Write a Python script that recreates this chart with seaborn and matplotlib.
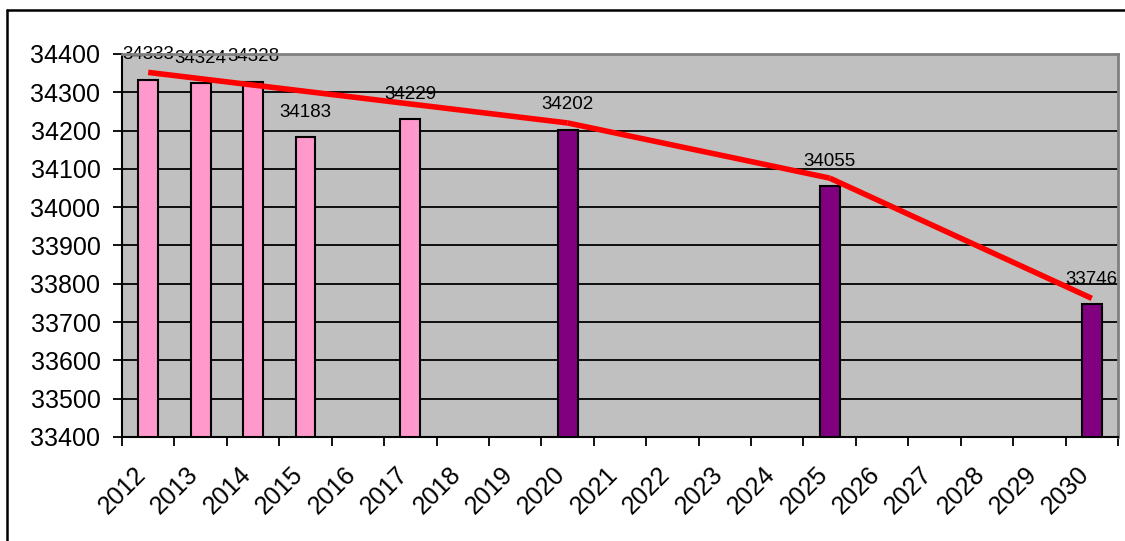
import matplotlib
matplotlib.use("Agg")
import matplotlib.pyplot as plt
import matplotlib.transforms as mtransforms
from matplotlib.lines import Line2D
import seaborn as sns
import pandas as pd

# ---- data ----
all_years = [str(y) for y in range(2012, 2031)]
bar_years = ["2012", "2013", "2014", "2015", "2017", "2020", "2025", "2030"]
bar_values = [34333, 34324, 34328, 34183, 34229, 34202, 34055, 33746]
bar_period = ["actual"] * 5 + ["forecast"] * 3
trend_years = ["2012", "2020", "2025", "2030"]
trend_values = [34352, 34220, 34076, 33762]
y_ticks = list(range(33400, 34401, 100))

sns.set_theme(style="white")
plt.rcParams["font.family"] = ["Liberation Sans", "DejaVu Sans"]

fig = plt.figure(figsize=(11.25, 5.41), dpi=100)
ax = fig.add_axes([122 / 1125, 1 - 437 / 541, (1118 - 122) / 1125, (437 - 54) / 541])
ax.set_facecolor("#C0C0C0")

df = pd.DataFrame({"year": bar_years, "value": bar_values, "period": bar_period})
sns.barplot(data=df, x="year", y="value", hue="period", order=all_years,
            palette={"actual": "#FF99CC", "forecast": "#800080"}, saturation=1,
            dodge=False, width=0.38, edgecolor="black", linewidth=1.5,
            legend=False, ax=ax, zorder=3)

ax.set_xlim(-0.5, len(all_years) - 0.5)
ax.set_ylim(33400, 34400)

# gridlines
for v in y_ticks[1:-1]:
    ax.axhline(v, color="black", lw=1.3, zorder=1)

# trend line (three segments)
pos = [all_years.index(y) for y in trend_years]
for i in range(len(pos) - 1):
    ax.plot(pos[i:i + 2], trend_values[i:i + 2], color="#FF0000", lw=4,
            solid_capstyle="butt", zorder=5)

# data labels
for y, v in zip(bar_years, bar_values):
    ax.annotate(f"{v}", (all_years.index(y), v), xytext=(0, 18),
                textcoords="offset points", ha="center", va="center",
                fontsize=13.5, color="black", zorder=6)

# axes styling
ax.set_xlabel("")
ax.set_ylabel("")
ax.set_yticks(y_ticks)
ax.set_yticklabels([str(v) for v in y_ticks], fontsize=18, color="black")
ax.tick_params(axis="y", length=6.5, width=1.3, color="black", pad=9,
               direction="out", left=True)
ax.set_xticks(range(len(all_years)))
ax.set_xticklabels(all_years, fontsize=18, color="black", rotation=45,
                   ha="right", va="center", rotation_mode="anchor")
ax.tick_params(axis="x", which="major", length=0, pad=24, bottom=True)
ax.set_xticks([i - 0.5 for i in range(len(all_years) + 1)], minor=True)
ax.tick_params(axis="x", which="minor", length=6.5, width=1.3, color="black",
               direction="out", bottom=True)
offset = mtransforms.ScaledTranslation(-6 / 100, 0, fig.dpi_scale_trans)
for lab in ax.get_xticklabels():
    lab.set_transform(lab.get_transform() + offset)

for side in ["left", "bottom"]:
    ax.spines[side].set_color("black")
    ax.spines[side].set_linewidth(1.5)
for side in ["top", "right"]:
    ax.spines[side].set_color("#808080")
    ax.spines[side].set_linewidth(2)
for s in ax.spines.values():
    s.set_zorder(7)

# outer chart border (left and top visible)
fig.add_artist(Line2D([7 / 1125, 7 / 1125], [0, 1 - 10 / 541], color="black",
                      lw=1.8, transform=fig.transFigure))
fig.add_artist(Line2D([7 / 1125, 1], [1 - 10 / 541, 1 - 10 / 541], color="black",
                      lw=1.8, transform=fig.transFigure))

fig.savefig("out.png", dpi=100)
